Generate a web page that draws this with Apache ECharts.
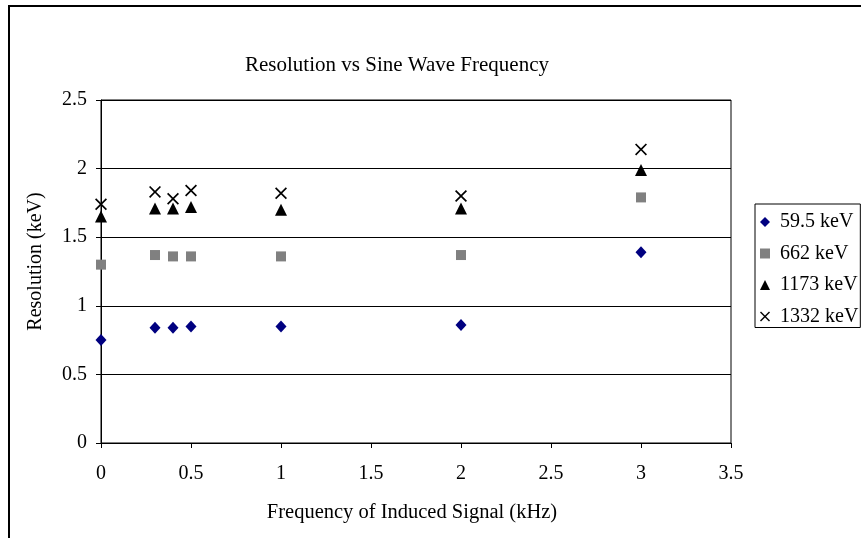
<!DOCTYPE html>
<html>
<head>
<meta charset="utf-8">
<script src="https://cdn.jsdelivr.net/npm/echarts@6/dist/echarts.min.js"></script>
<style>
html,body{margin:0;padding:0;background:#fff;}
#chart{width:861px;height:538px;}
</style>
</head>
<body>
<div id="chart"></div>
<script>
var frequencies = [0, 0.3, 0.4, 0.5, 1, 2, 3];
var seriesNames = ['59.5 keV', '662 keV', '1173 keV', '1332 keV'];
var res595 = [0.75, 0.84, 0.84, 0.85, 0.85, 0.86, 1.39];
var res662 = [1.30, 1.37, 1.36, 1.36, 1.36, 1.37, 1.79];
var res1173 = [1.65, 1.71, 1.71, 1.72, 1.70, 1.71, 1.99];
var res1332 = [1.74, 1.83, 1.78, 1.84, 1.82, 1.80, 2.14];
var xTicks = [0, 0.5, 1, 1.5, 2, 2.5, 3, 3.5];
var yTicks = [0, 0.5, 1, 1.5, 2, 2.5];

var FONT = '"Liberation Serif", "Times New Roman", serif';
var crossPath = 'path://M0,1 L1,0 L5,4 L9,0 L10,1 L6,5 L10,9 L9,10 L5,6 L1,10 L0,9 L4,5 Z';

function pairs(vals) {
  return frequencies.map(function (f, i) { return [f, vals[i]]; });
}

var styles = [
  { symbol: 'diamond', size: [11, 12], color: '#000080' },
  { symbol: 'rect', size: 10, color: '#808080' },
  { symbol: 'triangle', size: [12, 12], color: '#000000' },
  { symbol: crossPath, size: 12, color: '#000000' }
];
var allVals = [res595, res662, res1173, res1332];

var chart = echarts.init(document.getElementById('chart'), null, { renderer: 'canvas' });
chart.setOption({
  backgroundColor: '#ffffff',
  animation: false,
  textStyle: { fontFamily: FONT, color: '#000' },
  graphic: [
    { type: 'rect', shape: { x: 9, y: 6, width: 900, height: 600 },
      style: { fill: 'none', stroke: '#000', lineWidth: 2 }, silent: true, z: -10 },
    { type: 'text', style: { text: 'Resolution vs Sine Wave Frequency', x: 397, y: 65,
      textAlign: 'center', textVerticalAlign: 'middle', font: '21px ' + FONT, fill: '#000' } }
  ],
  grid: { left: 101, top: 100, width: 630, height: 343, show: true,
          borderColor: '#000', borderWidth: 1, backgroundColor: 'transparent' },
  legend: {
    orient: 'vertical', left: 755, top: 204,
    data: seriesNames,
    itemWidth: 10, itemHeight: 10, itemGap: 11.5,
    padding: [8, 2, 1, 5],
    borderColor: '#000', borderWidth: 1,
    textStyle: { fontFamily: FONT, fontSize: 20, color: '#000', lineHeight: 20, padding: [0, 0, 0, 5] }
  },
  xAxis: {
    type: 'value', min: 0, max: 3.5, interval: 0.5,
    name: 'Frequency of Induced Signal (kHz)', nameLocation: 'middle', nameGap: 59,
    nameTextStyle: { fontFamily: FONT, fontSize: 20.5, color: '#000', padding: [0, 8, 0, 0] },
    axisLine: { show: true, onZero: false, lineStyle: { color: '#000', width: 1 } },
    axisTick: { show: true, length: 5, lineStyle: { color: '#000' } },
    axisLabel: { fontFamily: FONT, fontSize: 20, color: '#000', margin: 21,
      formatter: function (v) { return xTicks.indexOf(v) >= 0 ? String(v) : ''; } },
    splitLine: { show: false }
  },
  yAxis: {
    type: 'value', min: 0, max: 2.5, interval: 0.5,
    name: 'Resolution (keV)', nameLocation: 'middle', nameGap: 55,
    nameTextStyle: { fontFamily: FONT, fontSize: 20, color: '#000', padding: [0, 0, 0, 20] },
    axisLine: { show: true, lineStyle: { color: '#000', width: 1 } },
    axisTick: { show: true, length: 5, lineStyle: { color: '#000' } },
    axisLabel: { fontFamily: FONT, fontSize: 20, color: '#000', margin: 14,
      formatter: function (v) { return yTicks.indexOf(v) >= 0 ? String(v) : ''; } },
    splitLine: { show: true, lineStyle: { color: '#000', width: 1 } }
  },
  series: seriesNames.map(function (name, i) {
    return {
      name: name, type: 'scatter',
      data: pairs(allVals[i]),
      symbol: styles[i].symbol, symbolSize: styles[i].size,
      itemStyle: { color: styles[i].color, opacity: 1 },
      emphasis: { disabled: true }
    };
  })
});
</script>
</body>
</html>
